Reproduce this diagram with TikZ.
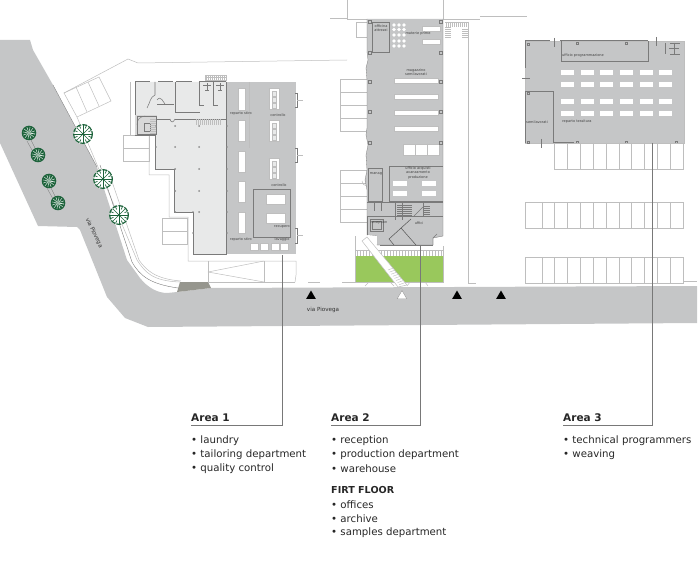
\documentclass[tikz,border=0pt]{standalone}
\usepackage{fontspec}
\setmainfont{DejaVu Sans}
\usepackage{xcolor}
\usetikzlibrary{shapes.geometric}
\definecolor{plangray}{RGB}{197,198,199}
\definecolor{planlight}{RGB}{232,233,233}
\definecolor{planline}{RGB}{190,190,190}
\definecolor{planwall}{RGB}{122,122,122}
\definecolor{plangreen}{RGB}{153,200,92}
\definecolor{planbrown}{RGB}{150,150,142}
\definecolor{treegreen}{RGB}{28,98,58}
\definecolor{leadergray}{RGB}{120,120,120}
\newcommand{\smalltree}[2]{
  \fill[treegreen] (#1,#2) circle (7.3);
  \foreach \a in {10,40,...,370} {\draw[white, line width=0.4pt] (#1,#2) ++(\a:1.5) -- ++(\a:4.6);}
  \fill[white] (#1,#2) circle (1.2);
  \fill[treegreen] (#1,#2) circle (0.7);
}
\newcommand{\bigtree}[2]{
  \fill[white] (#1,#2) circle (10);
  \draw[treegreen, line width=1.2pt, dash pattern=on 5pt off 1.2pt] (#1,#2) circle (9.4);
  \foreach \a in {0,45,...,359} {\draw[treegreen, line width=0.7pt] (#1,#2) -- ++(\a:9);}
  \foreach \a in {22,67,...,359} {\draw[treegreen, line width=0.7pt] (#1,#2) ++(\a:6) -- ++(\a:3);}
  \fill[treegreen] (#1,#2) circle (1.2);
}
\begin{document}
\begin{tikzpicture}[x=1pt, y=-1pt,
    lightline/.style={draw=planline, line width=0.5pt},
    wall/.style={draw=planwall, line width=0.55pt},
    thickwall/.style={draw=planwall, line width=1pt},
    whitebox/.style={fill=white, draw=planline, line width=0.3pt},
    planlabel/.style={font=\fontsize{3.5}{4.2}\selectfont, text=black!75, inner sep=0pt, align=center},
    roadlabel/.style={font=\fontsize{5.6}{6}\selectfont, text=black!80, inner sep=0pt},
    areatitle/.style={font=\fontsize{10.5}{13}\selectfont\bfseries, text=black!85, anchor=base west, inner sep=0pt},
    areaitem/.style={font=\fontsize{10.2}{12}\selectfont, text=black!85, anchor=west, inner sep=0pt},
    leader/.style={draw=leadergray, line width=0.8pt},
    marker/.style={regular polygon, regular polygon sides=3, fill=black, inner sep=0pt, minimum size=11pt}]
\useasboundingbox (0,0) rectangle (700,569);

% Road
\fill[plangray] (0,40) -- (30,40) -- (33,50) -- (53,85) -- (97,167) -- (127,260) -- (140,278)
  .. controls (148,288) and (158,293) .. (167,293) -- (177,292) -- (211,288) -- (697,286)
  -- (697,323) -- (148,327) -- (125,318) -- (107,297) -- (80,230) -- (77,227) -- (38,226) -- (0,143) -- cycle;
\fill[planbrown] (180,282) -- (208,282) -- (211,288) -- (177,292) -- cycle;
\draw[planwall, line width=0.3pt] (53,85) -- (97,167);

% Edge of the pavement
\draw[lightline] (77,117) -- (137,260) .. controls (145,272) and (152,281) .. (180,282);
\draw[wall, line width=0.4pt] (100,165) -- (132,262) .. controls (140,276) and (150,284) .. (178,288);
\draw[lightline] (108,170) -- (139,260) .. controls (146,270) and (155,279) .. (181,281);

% Parking top left and site border
\draw[lightline] (64,93) -- (77,117) -- (111,101) -- (99,77) -- cycle;
\draw[lightline] (76,87) -- (87,112);
\draw[lightline] (88,82) -- (99,106);
\draw[lightline] (64,93) -- (128,59) -- (138,63) -- (347,60);

% Trees
\draw[planwall, line width=0.3pt] (31,140) -- (36,150);
\draw[planwall, line width=0.3pt] (27,141) -- (33,152);
\draw[planwall, line width=0.3pt] (51,188) -- (56,198);
\draw[planwall, line width=0.3pt] (47,188) -- (53,199);
\smalltree{29}{133}
\smalltree{38}{155}
\smalltree{49}{181}
\smalltree{58}{203}
\bigtree{83}{134}
\bigtree{103}{179}
\bigtree{119}{215}

% Building 1
\fill[planlight] (135,82) -- (227,82) -- (227,254) -- (193,254) -- (193,212) -- (174,212) -- (174,169)
  -- (155,169) -- (155,135) -- (135,135) -- cycle;
\fill[plangray] (227,82) rectangle (296,254);
\draw[lightline] (149,135) -- (149,175) -- (169,175) -- (169,217) -- (188,217) -- (188,261) -- (296,261) -- (296,275) -- (295,282);
\draw[lightline] (130,82) -- (130,135);
\draw[lightline] (123,135) rectangle (149,161);
\draw[lightline] (123,148) -- (149,148);
\draw[lightline] (162,218) rectangle (187,244);
\draw[lightline] (162,231) -- (187,231);

% Building 1 walls
\draw[wall] (135,82) -- (135,135) -- (155,135) -- (155,169) -- (174,169) -- (174,212) -- (193,212) -- (193,254) -- (227,254);
\draw[wall] (226.5,82) -- (226.5,254);
\draw[thickwall] (135,82) -- (150,82);
\draw[thickwall] (158,82) -- (173,82);
\draw[thickwall] (176,82) -- (192,82);
\draw[thickwall] (199,82) -- (226,82);
\draw[wall] (155,82) -- (155,95) .. controls (150,97) and (150,103) .. (147,108);
\draw[wall] (175,82) -- (175,112) -- (200,112);
\draw[wall] (199,82) -- (199,105) -- (204,105);
\draw[wall] (213,82) -- (213,105) -- (218,105);
\draw[wall] (157,104) -- (174,104);
\draw[wall] (157,119) -- (170,119);
\draw[wall] (175,119) -- (226,119);
\draw[wall] (170,119) .. controls (171,123) and (173,123) .. (175,119);
\draw[wall] (157,100) .. controls (161,95) and (163,102) .. (165,104);
\fill[planline!60] (135,115) rectangle (157,135);
\draw[wall, line width=0.4pt] (137,116) rectangle (156,134);
\draw[wall, line width=0.4pt] (144,123) rectangle (150,131);
\draw[wall, line width=0.4pt] (137,125) .. controls (137,119) and (140,117) .. (145,116);
\foreach \y in {119,121,...,133} {\draw[planline, line width=0.3pt] (150,\y) -- (156,\y);}
\foreach \x in {196,198,...,220} {\draw[planline, line width=0.4pt] (\x,119) -- (\x,125);}
\foreach \x in {206,208,...,226} {\draw[planline, line width=0.4pt] (\x,75) -- (\x,80);}
\draw[planline, line width=0.4pt] (205,75) rectangle (226,80);
\draw[planline, line width=0.4pt] (205,77.5) -- (226,77.5);
\foreach \x in {207,220} {
  \draw[wall] (\x-4,85) -- (\x+4,85);
  \draw[wall] (\x,83) -- (\x,90);
  \draw[wall] (\x-2,90) -- (\x+2,90);
}
\foreach \x in {175,199} {\foreach \y in {126,147,169,191,212} {\fill[black!45] (\x,\y) circle (1);}}
\foreach \y in {126,147,169,191,212,233} {\fill[black!45] (227,\y) circle (0.9);}
\foreach \y in {147,126} {\fill[black!45] (156,\y) circle (0.9);}
\fill[black!45] (193,233) circle (0.9);
\fill[black!45] (193,212) circle (0.9);

% Building 1 gray part
\draw[planline, line width=0.3pt] (249,82) -- (249,148);
\foreach \y/\h in {88/22,120/21,151/21,181/21,212/21} {\draw[whitebox] (238,\y) rectangle ++(7,\h);}
\foreach \y in {88,120,158} {
  \draw[whitebox] (269,\y) rectangle ++(10,21);
  \foreach \k in {3,9,15} {\draw[planline, line width=0.3pt, fill=planlight] (272,\y+\k) rectangle ++(4,5);}
}
\draw[wall, line width=0.4pt] (253,189) rectangle (290,237);
\draw[whitebox] (266,194) rectangle (285,204);
\draw[whitebox] (266,213) rectangle (285,223);
\foreach \x in {250,260,271,280} {\draw[whitebox] (\x,243) rectangle ++(8.5,7);}
\foreach \y in {93,107,148,162,228,243} {\draw[wall] (295,\y) -- (298,\y);}
\foreach \y/\a/\b in {100/93/107,155/148/162,235/228/243} {
  \draw[wall] (297,\a) -- (297,\b);
  \draw[lightline] (297,\y) -- (303,\y);
}
\node[planlabel] (stiroA) at (241,114) {reparto stiro};
\node[planlabel] (controlloA) at (278,115) {controllo};
\node[planlabel] (controlloB) at (279,185) {controllo};
\node[planlabel] (recupero) at (282,227) {recupero};
\node[planlabel] (stiroB) at (241,240) {reparto stiro};
\node[planlabel] (lavaggio) at (282,240) {lavaggio};

% Yard below building 1
\draw[lightline] (208,261) -- (208,282) -- (295,282);
\draw[lightline] (208,272) -- (264,261);
\draw[lightline] (208,272) -- (264,282);
\draw[lightline] (264,261) -- (264,282);
\draw[lightline] (308,282) -- (320,282);
\draw[lightline] (342,282) -- (355,282);

% Building 2, border lines
\draw[lightline] (347,0) -- (347,19) -- (443,19);
\draw[lightline] (443,0) -- (443,19) -- (480,19);
\draw[lightline] (480,16) -- (527,16);
\draw[lightline] (330,18) -- (347,18);
\draw[lightline] (468,22) -- (468,283) -- (476,283);
\draw[lightline] (356,22) rectangle (367,37);
\draw[lightline] (445,22) -- (469,22);
\foreach \x in {446,448,...,468} {\draw[planline, line width=0.4pt] (\x,22) -- (\x,27);}
\foreach \y in {27,29,...,37} {\draw[planline, line width=0.4pt] (445,\y) -- (451,\y);}
\foreach \y in {29,31,...,37} {\draw[planline, line width=0.4pt] (462,\y) -- (468,\y);}
\draw[lightline] (340,79) rectangle (367,131);
\foreach \y in {92,105,118} {\draw[lightline] (340,\y) -- (367,\y);}
\draw[lightline] (340,170) rectangle (367,222);
\foreach \y in {183,196,209} {\draw[lightline] (340,\y) -- (367,\y);}
\draw[lightline] (367,186) arc (90:180:5);

% Building 2
\fill[plangray] (367,19) -- (443,19) -- (443,236) -- (433,238) -- (433,245) -- (377,245) -- (377,236) -- (367,235)
  -- (367,190) -- (365,180) -- (367,170) -- (366,155) -- (368,145) -- (366,135) -- (367,128)
  -- (367,80) -- (366,68) -- (368,60) -- (367,52) -- cycle;
\draw[planwall, line width=0.3pt] (443,19) -- (443,236) -- (433,238) -- (433,245) -- (377,245) -- (377,236) -- (367,235)
  -- (367,190) -- (365,180) -- (367,170) -- (366,155) -- (368,145) -- (366,135) -- (367,128)
  -- (367,80) -- (366,68) -- (368,60) -- (367,52) -- (367,19);
\draw[wall, line width=0.4pt] (372,22) rectangle (389,52);
\foreach \x in {394,399,404} {\foreach \y in {25,29.5,35,41,46} {\fill[white] (\x,\y) circle (1.9);}}
\draw[whitebox] (422,26) rectangle (440,31);
\draw[whitebox] (422,39) rectangle (440,44);
\foreach \y in {78,94,110,126} {\draw[whitebox] (394,\y) rectangle (438,\y+5);}
\draw[whitebox] (403,144) rectangle (439,155);
\draw[planline, line width=0.3pt] (415,144) -- (415,155);
\draw[planline, line width=0.3pt] (427,144) -- (427,155);
\foreach \y in {20,51,80,110,141} {
  \draw[planwall, line width=0.3pt] (368,\y) rectangle ++(3,3);
  \draw[planwall, line width=0.3pt] (439,\y) rectangle ++(3,3);
}
\draw[wall, line width=0.4pt] (389,201) -- (389,166) -- (443,166);
\draw[wall, line width=0.4pt] (389,201) -- (443,201);
\draw[wall, line width=0.4pt] (368,168) rectangle (382,201);
\foreach \x/\y in {393/181,422/181,393/191,422/191} {\fill[white] (\x,\y) rectangle ++(14,4.6);}

% Corridor and reception
\draw[wall, line width=0.4pt] (367,202) -- (443,202);
\draw[wall, line width=0.4pt] (367,216) -- (443,216);
\draw[wall] (374,203) -- (374,211);
\draw[wall] (381,203) -- (381,211);
\foreach \y in {205,207,...,216} {\draw[planwall, line width=0.25pt] (397,\y) -- (412,\y);}
\draw[wall] (395,202) -- (395,220);
\draw[wall] (402,202) -- (402,220);
\draw[wall, line width=0.4pt] (414,216) -- (423,207);
\draw[wall, line width=0.4pt] (423,203) -- (423,216);
\foreach \y in {206,208,...,216} {\draw[planwall, line width=0.25pt] (423,\y) -- (430,\y);}
\draw[wall, line width=0.4pt] (370,219) rectangle (383,231);
\draw[wall, line width=0.3pt] (372,221) rectangle (381,229);
\draw[planwall!70!black, line width=0.5pt] (411,219) -- (389,239) -- (394,245);
\draw[planwall!70!black, line width=0.5pt] (401,228) -- (416,245);
\draw[wall, line width=0.4pt] (380,245) -- (433,245);
\draw[wall, line width=0.4pt] (367,216) -- (367,235);
\fill[white] (367,235) -- (377,236) -- (377,245) -- (371,239) -- cycle;
\draw[wall, line width=0.4pt] (433,245) -- (433,238) -- (437,234);
\node[planlabel] (officina) at (381,28) {officina\\attrezzi};
\node[planlabel] (materie) at (418,34) {materie prime};
\node[planlabel] (magazzino) at (416,72) {magazzino\\semilavorati};
\node[planlabel] (acquisti) at (418,173) {ufficio acquisti\\avanzamento\\produzione};
\node[planlabel] (manag) at (376,174) {manag};
\node[planlabel] (reception) at (379,223) {reception};
\node[planlabel] (uffici) at (419,223) {uffici};

% Garden and ramp
\fill[plangreen] (355,256) rectangle (443,282);
\draw[lightline] (355,236) -- (355,282) -- (443,282) -- (443,246);
\draw[lightline] (355,250) -- (443,250);
\foreach \x in {357,360,...,443} {\draw[planline, line width=0.3pt] (\x,250) -- (\x,256);}
\draw[lightline, fill=white] (362,241) -- (367,237) -- (407,285) -- (398,287) -- cycle;
\foreach \k in {0,1,...,7} {\draw[planline, line width=0.4pt] (388+\k*1.6,270+\k*2.1) -- (393.5+\k*1.6,268+\k*2.1);}
\draw[lightline] (365,286) -- (369,282) -- (390,282) -- (394,286);
\draw[lightline] (407,286) -- (410,282) -- (425,282) -- (428,286);

% Entrances
\node[marker] (entryA) at (311,296) {};
\node[marker, fill=white, draw=black!40, line width=0.4pt] (entryB) at (402,296) {};
\node[marker] (entryC) at (457,296) {};
\node[marker] (entryD) at (501,296) {};
\node[roadlabel] (roadA) at (323,310) {via Piovega};
\node[roadlabel, rotate=-64] (roadB) at (94,233) {via Piovega};

% Building 3
\fill[plangray] (525,41) rectangle (684,143);
\draw[lightline] (525,41) rectangle (684,143);
\draw[wall, line width=0.4pt] (561,41) -- (561,61) -- (648,61) -- (648,41);
\draw[thickwall] (525,41) -- (550,41);
\draw[thickwall] (560,41) -- (648,41);
\draw[thickwall] (525,41) -- (525,68);
\draw[thickwall] (525,91) -- (525,143);
\draw[wall, line width=0.4pt] (525,91) -- (553,91) -- (553,143);
\draw[thickwall] (553,143) -- (574,143);
\foreach \x in {561,581,600,620,640,659} {\foreach \y in {70,82,99,111} {\fill[white] (\x,\y) rectangle ++(13,5);}}
\draw[wall] (554,38) -- (554,47);
\draw[wall] (656,37) -- (656,46);
\draw[wall] (541,139) -- (541,148);
\draw[wall] (522,78) -- (530,78);
\draw[wall, line width=0.4pt] (665,43) -- (665,54);
\draw[wall, line width=0.4pt] (674,43) -- (674,54);
\draw[wall, line width=0.4pt] (670,43) -- (680,43);
\draw[wall, line width=0.4pt] (670,54) -- (680,54);
\draw[wall, line width=0.4pt] (669,48) -- (679,48);
\foreach \x/\y in {527/43,576/42,625/42,527/92,576/141,625/141,675/141,527/141} {\draw[planwall, line width=0.3pt] (\x,\y) rectangle ++(2,2);}
\node[planlabel] (programmazione) at (583,56) {ufficio programmazione};
\node[planlabel] (semilavorati) at (537,122) {semilavorati};
\node[planlabel] (tessitura) at (577,122) {reparto tessitura};

% Parking rows
\draw[lightline] (554,143) rectangle (683,169);
\foreach \x in {567,580,593,606,619,631,644,657,670} {\draw[lightline] (\x,143) -- (\x,169);}
\foreach \y in {202,257} {
  \draw[lightline] (525,\y) rectangle (683,\y+26);
  \foreach \x in {542,554,567,580,593,606,619,631,644,657,670} {\draw[lightline] (\x,\y) -- (\x,\y+26);}
}
\draw[lightline] (683,281) -- (697,281);

% Leaders
\coordinate (areaOneTop) at (282,255);
\coordinate (areaOneCorner) at (282,425);
\coordinate (areaOneEnd) at (191,425);
\coordinate (areaTwoTop) at (420,245);
\coordinate (areaTwoCorner) at (420,425);
\coordinate (areaTwoEnd) at (331,425);
\coordinate (areaThreeTop) at (652.5,143);
\coordinate (areaThreeCorner) at (652.5,425);
\coordinate (areaThreeEnd) at (563,425);
\draw[leader] (areaOneTop) -- (areaOneCorner) -- (areaOneEnd);
\draw[leader] (areaTwoTop) -- (areaTwoCorner) -- (areaTwoEnd);
\draw[leader] (areaThreeTop) -- (areaThreeCorner) -- (areaThreeEnd);

% Area 1
\node[areatitle] (areaOne) at (191,421) {Area 1};
\node[areaitem] (laundry) at (191,441) {• laundry};
\node[areaitem] (tailoring) at (191,455) {• tailoring department};
\node[areaitem] (quality) at (191,469) {• quality control};

% Area 2
\node[areatitle] (areaTwo) at (331,421) {Area 2};
\node[areaitem] (receptionItem) at (331,441) {• reception};
\node[areaitem] (production) at (331,455) {• production department};
\node[areaitem] (warehouse) at (331,469) {• warehouse};
\node[areaitem, font=\fontsize{9.6}{12}\selectfont\bfseries] (firstFloor) at (331,490) {FIRT FLOOR};
\node[areaitem] (offices) at (331,505) {• offices};
\node[areaitem] (archive) at (331,519) {• archive};
\node[areaitem] (samples) at (331,533) {• samples department};

% Area 3
\node[areatitle] (areaThree) at (563,421) {Area 3};
\node[areaitem] (technical) at (563,441) {• technical programmers};
\node[areaitem] (weaving) at (563,455) {• weaving};
\end{tikzpicture}
\end{document}
